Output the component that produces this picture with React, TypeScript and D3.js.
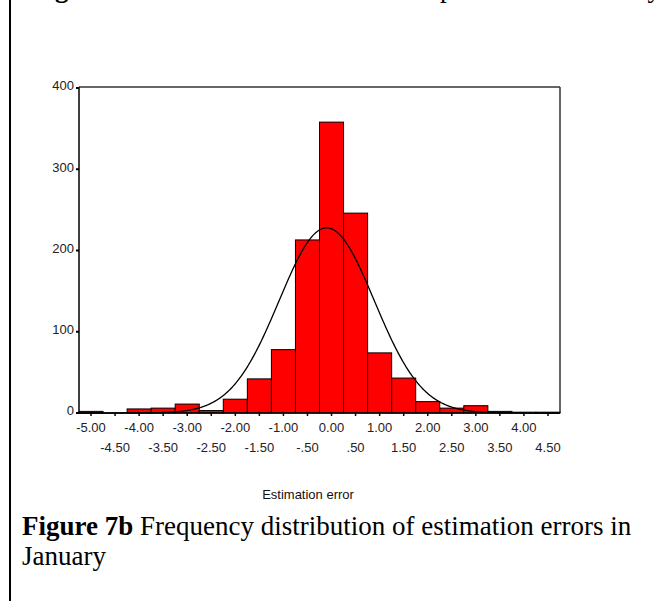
import React from "react";
import * as d3 from "d3";

const binCenters = [-5.0, -4.5, -4.0, -3.5, -3.0, -2.5, -2.0, -1.5, -1.0, -0.5, 0.0, 0.5, 1.0, 1.5, 2.0, 2.5, 3.0, 3.5, 4.0, 4.5];
const counts = [2, 0, 5, 6, 11, 3, 17, 42, 78, 213, 358, 246, 74, 43, 14, 6, 9, 2, 1, 1];
const upperLabels = ["-5.00", "-4.00", "-3.00", "-2.00", "-1.00", "0.00", "1.00", "2.00", "3.00", "4.00"];
const upperValues = [-5, -4, -3, -2, -1, 0, 1, 2, 3, 4];
const lowerLabels = ["-4.50", "-3.50", "-2.50", "-1.50", "-.50", ".50", "1.50", "2.50", "3.50", "4.50"];
const lowerValues = [-4.5, -3.5, -2.5, -1.5, -0.5, 0.5, 1.5, 2.5, 3.5, 4.5];
const yTicks = [0, 100, 200, 300, 400];
const fitMean = -0.1;
const fitSd = 0.99;
const binWidth = 0.5;

const SANS = "Arial, 'Liberation Sans', sans-serif";
const SERIF = "'Times New Roman', 'Liberation Serif', serif";

export default function App() {
  const left = 79, right = 560, top = 87, bottom = 413;
  const x = d3.scaleLinear().domain([-5.25, 4.75]).range([left, right]);
  const y = d3.scaleLinear().domain([0, 400]).range([bottom, 88]);
  const N = d3.sum(counts);
  const curvePts = d3.range(-5.25, 4.76, 0.02).map((v) => {
    const z = (v - fitMean) / fitSd;
    const f = (N * binWidth) / (fitSd * Math.sqrt(2 * Math.PI)) * Math.exp(-0.5 * z * z);
    return [v, f] as [number, number];
  });
  const line = d3.line<[number, number]>().x((d) => x(d[0])).y((d) => y(d[1]));

  return (
    <svg width={669} height={601} style={{ position: "absolute", left: 0, top: 0, background: "#fff" }}>
      <rect x={0} y={0} width={669} height={601} fill="#fff" />
      {/* page border */}
      <line x1={10} y1={0} x2={10} y2={601} stroke="#000" strokeWidth={2} />
      {/* clipped previous line descenders */}
      <g fontFamily={SERIF} fontSize={27} fill="#000">
        <text x={31} y={-3} fontWeight="bold">Figure</text>
        <text x={419} y={-3}>top</text>
        <text x={613} y={-3}>only</text>
      </g>
      {/* frame */}
      <line x1={left} y1={top} x2={right} y2={top} stroke="#333" strokeWidth={1.5} />
      <line x1={right} y1={top} x2={right} y2={bottom} stroke="#333" strokeWidth={1.5} />
      {/* bars */}
      {binCenters.map((c, i) =>
        counts[i] > 0 ? (
          <rect
            key={i}
            x={x(c - binWidth / 2)}
            y={y(counts[i])}
            width={x(c + binWidth / 2) - x(c - binWidth / 2)}
            height={y(0) - y(counts[i])}
            fill="#ff0000"
            stroke="#000"
            strokeWidth={1}
          />
        ) : null
      )}
      {/* normal curve */}
      <path d={line(curvePts) || ""} fill="none" stroke="#000" strokeWidth={1.3} />
      {/* axes */}
      <line x1={left} y1={top} x2={left} y2={bottom + 1} stroke="#000" strokeWidth={1.5} />
      <line x1={left} y1={bottom} x2={right} y2={bottom} stroke="#000" strokeWidth={1.5} />
      {yTicks.map((t) => (
        <g key={t}>
          <line x1={left - 3} y1={y(t)} x2={left} y2={y(t)} stroke="#000" strokeWidth={2} />
          <text x={left - 5} y={y(t) - 1} fontFamily={SANS} fontSize={13} fill="#222" textAnchor="end" dominantBaseline="middle">
            {t}
          </text>
        </g>
      ))}
      {binCenters.map((c, i) => (
        <line key={i} x1={x(c)} y1={bottom} x2={x(c)} y2={bottom + 3} stroke="#000" strokeWidth={1.5} />
      ))}
      {upperValues.map((v, i) => (
        <text key={"u" + i} x={x(v)} y={432} fontFamily={SANS} fontSize={13} fill="#222" textAnchor="middle">
          {upperLabels[i]}
        </text>
      ))}
      {lowerValues.map((v, i) => (
        <text key={"l" + i} x={x(v)} y={452} fontFamily={SANS} fontSize={13} fill="#222" textAnchor="middle">
          {lowerLabels[i]}
        </text>
      ))}
      <text x={308} y={499} fontFamily={SANS} fontSize={13} fill="#111" textAnchor="middle">
        Estimation error
      </text>
      <text x={22} y={535} fontFamily={SERIF} fontSize={27} fill="#000">
        <tspan fontWeight="bold">Figure 7b</tspan>
        <tspan> Frequency distribution of estimation errors in</tspan>
      </text>
      <text x={22} y={565} fontFamily={SERIF} fontSize={27} fill="#000">
        January
      </text>
    </svg>
  );
}
